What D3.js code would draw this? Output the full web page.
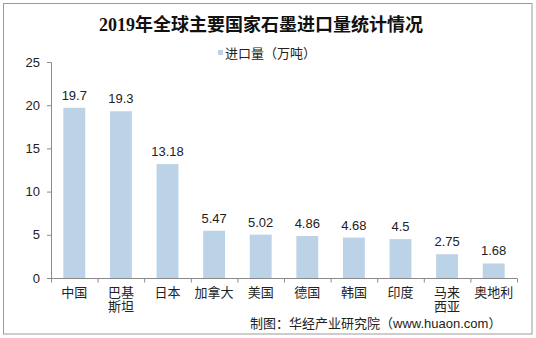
<!DOCTYPE html>
<html>
<head>
<meta charset="utf-8">
<script src="https://cdn.jsdelivr.net/npm/d3@7"></script>
<style>
  html, body { margin: 0; padding: 0; background: #fff; }
  svg { display: block; }
</style>
</head>
<body>
<svg id="chart" width="536" height="338"></svg>
<script>
// 2019 graphite imports by country (10k tonnes)
const countries = ["中国", "巴基斯坦", "日本", "加拿大", "美国", "德国", "韩国", "印度", "马来西亚", "奥地利"];
const imports = [19.7, 19.3, 13.18, 5.47, 5.02, 4.86, 4.68, 4.5, 2.75, 1.68];
const yTicks = [0, 5, 10, 15, 20, 25];
const titleText = "2019年全球主要国家石墨进口量统计情况";
const legendText = "进口量（万吨）";
const sourceText = "制图：华经产业研究院（www.huaon.com）";

const svg = d3.select("#chart");
const W = 536, H = 338;
const sans = "Arial, 'Liberation Sans', 'Noto Sans CJK SC', sans-serif";
const m = { left: 51, right: 19, top: 62, bottom: 60 };

// outer frame
svg.append("rect")
  .attr("x", 3.5).attr("y", 3.5)
  .attr("width", W - 7.5).attr("height", H - 7.5)
  .attr("fill", "#fff").attr("stroke", "#9a9a9a").attr("stroke-width", 1);

// title
svg.append("text")
  .attr("x", 261).attr("y", 31)
  .attr("text-anchor", "middle")
  .attr("font-family", "'Times New Roman', 'Liberation Serif', 'Noto Sans CJK SC', serif")
  .attr("font-weight", "bold")
  .attr("font-size", 18)
  .attr("fill", "#111")
  .text(titleText);

// legend
svg.append("rect")
  .attr("x", 218).attr("y", 50).attr("width", 5).attr("height", 5)
  .attr("fill", "#bcd2e6");
svg.append("text")
  .attr("x", 225).attr("y", 57.5)
  .attr("font-family", sans).attr("font-size", 13).attr("fill", "#222")
  .text(legendText);

const x = d3.scaleBand()
  .domain(countries)
  .range([m.left, W - m.right])
  .paddingInner(0.53).paddingOuter(0.265);

const y = d3.scaleLinear()
  .domain([0, 25])
  .range([H - m.bottom, m.top]);

// y axis
const yAxis = svg.append("g")
  .attr("transform", `translate(${m.left},0)`)
  .call(d3.axisLeft(y).tickValues(yTicks).tickSize(4).tickPadding(7));
yAxis.selectAll("path, line").attr("stroke", "#8a8a8a");
yAxis.select("path").attr("d", `M-4,${y(25) + 0.5}H0.5V${y(0) + 0.5}`);
yAxis.selectAll("text")
  .attr("font-family", sans).attr("font-size", 13).attr("fill", "#222");

// x axis with ticks between categories
const xStart = m.left, xEnd = W - m.right;
const xa = svg.append("g").attr("transform", `translate(0,${y(0) + 0.5})`);
xa.append("line")
  .attr("x1", xStart).attr("x2", xEnd)
  .attr("stroke", "#8a8a8a");
xa.selectAll("line.tk")
  .data(d3.range(countries.length + 1))
  .join("line")
  .attr("class", "tk")
  .attr("x1", i => xStart + (xEnd - xStart) * i / countries.length + 0.5)
  .attr("x2", i => xStart + (xEnd - xStart) * i / countries.length + 0.5)
  .attr("y1", 0).attr("y2", 4)
  .attr("stroke", "#8a8a8a");

// category labels, long names wrap after two characters
const catG = svg.append("g");
countries.forEach(c => {
  const lines = c.length > 3 ? [c.slice(0, 2), c.slice(2)] : [c];
  const t = catG.append("text")
    .attr("x", x(c) + x.bandwidth() / 2)
    .attr("y", y(0) + 19)
    .attr("text-anchor", "middle")
    .attr("font-family", sans).attr("font-size", 13).attr("fill", "#222");
  lines.forEach((l, i) => {
    t.append("tspan")
      .attr("x", x(c) + x.bandwidth() / 2)
      .attr("dy", i === 0 ? 0 : 14)
      .text(l);
  });
});

// bars
svg.append("g").selectAll("rect")
  .data(countries)
  .join("rect")
  .attr("x", d => x(d))
  .attr("y", (d, i) => y(imports[i]))
  .attr("width", x.bandwidth())
  .attr("height", (d, i) => y(0) - y(imports[i]))
  .attr("fill", "#bcd2e6");

// value labels
svg.append("g").selectAll("text")
  .data(countries)
  .join("text")
  .attr("x", d => x(d) + x.bandwidth() / 2)
  .attr("y", (d, i) => y(imports[i]) - 8)
  .attr("text-anchor", "middle")
  .attr("font-family", sans).attr("font-size", 13).attr("fill", "#222")
  .text((d, i) => imports[i]);

// source note
svg.append("text")
  .attr("x", 250).attr("y", 328)
  .attr("font-family", sans).attr("font-size", 13).attr("fill", "#222")
  .text(sourceText);
</script>
</body>
</html>
